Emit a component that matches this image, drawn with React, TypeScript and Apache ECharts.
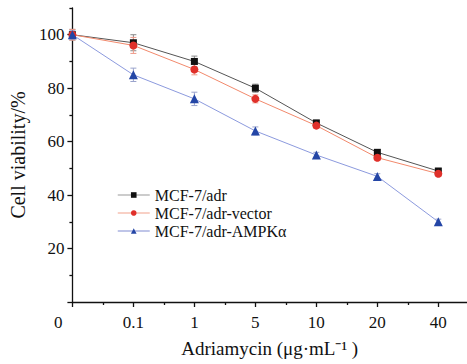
import React, { useEffect, useRef } from 'react';
import * as echarts from 'echarts';

const doses = ['0', '0.1', '1', '5', '10', '20', '40'];
const seriesNames = ['MCF-7/adr', 'MCF-7/adr-vector', 'MCF-7/adr-AMPKα'];
const adr = [100, 97, 90, 80, 67, 56, 49];
const adrErr = [2, 3, 2, 1.5, 1, 1, 1];
const vector = [100, 96, 87, 76, 66, 54, 48];
const vectorErr = [2, 3, 2, 1.5, 1, 1, 1];
const ampk = [100, 85, 76, 64, 55, 47, 30];
const ampkErr = [1.5, 2.5, 2.5, 1.5, 1, 1, 1];
const yTickLabels = [20, 40, 60, 80, 100];
const yMajorTicks = [0, 20, 40, 60, 80, 100];
const yMinorTicks = [10, 30, 50, 70, 90, 110];
const originLabel = [0];

const FONT = "'Liberation Serif'";
const TXT = '#111';

export default function App() {
  const ref = useRef<HTMLDivElement>(null);
  useEffect(() => {
    if (!ref.current) return;
    const chart = echarts.init(ref.current, null, { renderer: 'svg' });
    const idx = doses.map((_, i) => i);
    const xMinor = idx.slice(0, -1).map((i) => i + 0.5);
    const markerColors = ['#111111', '#e0302a', '#2446a6'];
    const lineColors = ['#555555', '#f2896c', '#8c9ade'];
    const legendLineColors = ['#bbbbbb', '#f6c1b2', '#aab2e0'];
    const errColors = ['#888888', '#ee9a8a', '#9aa3cc'];
    const symbols = ['rect', 'circle', 'triangle'];
    const symbolSizes = [7, 8, 9];
    const values = [adr, vector, ampk];
    const errs = [adrErr, vectorErr, ampkErr];

    const lineSeries = values.map((vals, s) => ({
      type: 'line',
      name: seriesNames[s],
      data: vals.map((v, i) => [i, v]),
      symbol: symbols[s],
      symbolSize: symbolSizes[s],
      itemStyle: { color: markerColors[s] },
      lineStyle: { color: lineColors[s], width: 1 },
      z: 3,
    }));

    const errSeries = values.map((vals, s) => ({
      type: 'custom',
      name: 'err' + s,
      data: vals.map((v, i) => [i, v, errs[s][i]]),
      encode: { x: 0, y: 1 },
      z: 2,
      renderItem: (params: any, api: any) => {
        const x = api.value(0);
        const y = api.value(1);
        const e = api.value(2);
        const top = api.coord([x, y + e]);
        const bot = api.coord([x, y - e]);
        const w = 3;
        const style = { stroke: errColors[s], lineWidth: 1 };
        return {
          type: 'group',
          children: [
            { type: 'line', shape: { x1: top[0], y1: top[1], x2: bot[0], y2: bot[1] }, style },
            { type: 'line', shape: { x1: top[0] - w, y1: top[1], x2: top[0] + w, y2: top[1] }, style },
            { type: 'line', shape: { x1: bot[0] - w, y1: bot[1], x2: bot[0] + w, y2: bot[1] }, style },
          ],
        };
      },
    }));

    chart.setOption({
      animation: false,
      textStyle: { fontFamily: FONT, color: TXT },
      grid: { left: 72, right: 0, top: 8, bottom: 62, containLabel: false },
      legend: {
        orient: 'vertical',
        left: 112,
        top: 182,
        itemWidth: 32,
        itemHeight: 7,
        itemGap: 2,
        textStyle: { fontFamily: FONT, fontSize: 16, color: TXT },
        data: seriesNames.map((n, s) => ({
          name: n,
          lineStyle: { color: legendLineColors[s], width: 1.5 },
        })),
      },
      xAxis: [
        {
          type: 'value',
          min: 0,
          max: 6.47,
          splitLine: { show: false },
          axisLine: { show: true, onZero: false, lineStyle: { color: '#111', width: 1.3 } },
          axisTick: { show: true, customValues: idx, length: 5, lineStyle: { color: '#111', width: 1.3 } },
          axisLabel: {
            customValues: idx.slice(1),
            margin: 12,
            fontFamily: FONT,
            fontSize: 17,
            color: TXT,
            formatter: (v: number) => doses[Math.round(v)],
          },
          name: 'Adriamycin (μg·mL⁻¹ )',
          nameLocation: 'middle',
          nameGap: 37,
          nameTextStyle: { fontFamily: FONT, fontSize: 19, color: TXT },
        },
        {
          type: 'value',
          min: 0,
          max: 6.47,
          position: 'bottom',
          splitLine: { show: false },
          axisLine: { show: false, onZero: false },
          axisTick: { show: true, customValues: xMinor, length: 3, lineStyle: { color: '#111', width: 1.3 } },
          axisLabel: { show: false },
        },
      ],
      yAxis: [
        {
          type: 'value',
          min: 0,
          max: 110,
          splitLine: { show: false },
          axisLine: { show: true, lineStyle: { color: '#111', width: 1.3 } },
          axisTick: { show: true, customValues: yMajorTicks, length: 5, lineStyle: { color: '#111', width: 1.3 } },
          axisLabel: {
            customValues: yTickLabels,
            margin: 8,
            fontFamily: FONT,
            fontSize: 17,
            color: TXT,
          },
          name: 'Cell viability/%',
          nameLocation: 'middle',
          nameRotate: 90,
          nameGap: 42,
          nameTextStyle: { fontFamily: FONT, fontSize: 20, color: TXT },
        },
        {
          type: 'value',
          min: 0,
          max: 110,
          position: 'left',
          splitLine: { show: false },
          axisLine: { show: false },
          axisTick: { show: true, customValues: yMinorTicks, length: 3, lineStyle: { color: '#111', width: 1.3 } },
          axisLabel: {
            show: true,
            customValues: originLabel,
            margin: 10,
            verticalAlign: 'top',
            padding: [12, 0, 0, 0],
            fontFamily: FONT,
            fontSize: 17,
            color: TXT,
            formatter: () => doses[0],
          },
        },
      ],
      series: [...errSeries, ...lineSeries],
    });
    return () => chart.dispose();
  }, []);
  return <div ref={ref} style={{ position: 'absolute', left: 0, top: 0, width: 467, height: 364 }} />;
}
